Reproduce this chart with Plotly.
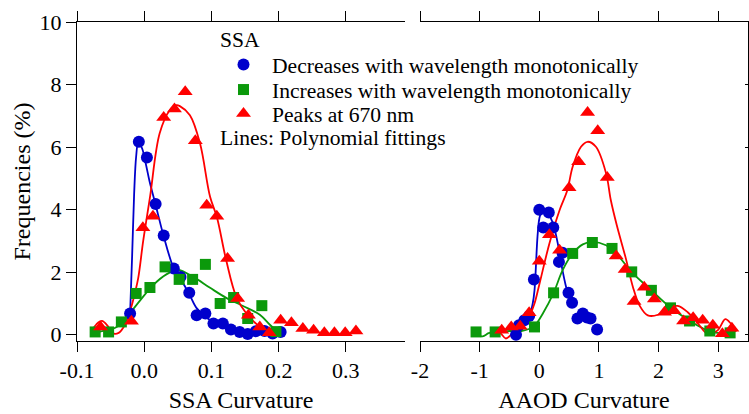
import plotly.graph_objects as go

# ---------------- data ----------------
# Left panel: SSA curvature
ssa_dec_x = [-0.021, -0.008, 0.004, 0.017, 0.029, 0.044, 0.054, 0.067, 0.078, 0.091,
             0.103, 0.117, 0.129, 0.142, 0.154, 0.166, 0.179, 0.191, 0.203]
ssa_dec_y = [0.68, 6.17, 5.67, 4.18, 3.17, 2.12, 1.85, 1.34, 0.62, 0.68,
             0.36, 0.36, 0.17, 0.09, 0.02, 0.11, 0.12, 0.04, 0.09]
ssa_inc_x = [-0.073, -0.053, -0.034, -0.012, 0.0085, 0.031, 0.052, 0.072, 0.091,
             0.113, 0.133, 0.154, 0.175, 0.196]
ssa_inc_y = [0.09, 0.09, 0.41, 1.32, 1.51, 2.17, 1.77, 1.77, 2.25,
             1.00, 1.19, 0.52, 0.93, 0.10]
ssa_peak_x = [-0.065, -0.019, -0.002, 0.013, 0.029, 0.045, 0.061, 0.076, 0.093, 0.108,
              0.124, 0.139, 0.155, 0.172, 0.186, 0.203, 0.219, 0.236, 0.252, 0.268,
              0.283, 0.299, 0.315]
ssa_peak_y = [0.25, 0.43, 3.42, 3.79, 6.95, 7.22, 7.77, 6.20, 4.14, 3.79,
              2.44, 1.16, 0.62, 0.25, 0.06, 0.46, 0.38, 0.20, 0.14, 0.06,
              0.06, 0.06, 0.12]

# polynomial fitting curves
ssa_dec_fit_x = [-0.021, -0.018, -0.015, -0.012, -0.009, -0.004, 0.002, 0.008, 0.017,
                 0.029, 0.044, 0.055, 0.067, 0.078, 0.090, 0.103, 0.117, 0.130, 0.142,
                 0.154, 0.166, 0.179, 0.191, 0.200]
ssa_dec_fit_y = [0.68, 2.5, 4.5, 5.7, 6.1, 6.0, 5.5, 4.9, 4.15,
                 3.15, 2.12, 1.75, 1.30, 0.85, 0.60, 0.40, 0.30, 0.17, 0.08,
                 0.03, 0.07, 0.09, 0.03, 0.06]
ssa_inc_fit_x = [-0.073, -0.061, -0.041, -0.026, -0.006, 0.013, 0.033, 0.050, 0.073,
                 0.098, 0.122, 0.147, 0.172, 0.187, 0.197]
ssa_inc_fit_y = [0.08, 0.12, 0.25, 0.57, 1.10, 1.58, 1.93, 2.07, 1.85,
                 1.50, 1.18, 0.92, 0.64, 0.32, 0.12]
ssa_peak_fit_x = [-0.076, -0.069, -0.063, -0.055, -0.049, -0.044, -0.038, -0.034, -0.028,
                  -0.024, -0.019, -0.014, -0.009, -0.0015, 0.0086, 0.023, 0.038, 0.048,
                  0.053, 0.068, 0.083, 0.098, 0.108, 0.122, 0.137, 0.152, 0.172, 0.187, 0.200]
ssa_peak_fit_y = [0.20, 0.38, 0.44, 0.30, 0.10, 0.03, 0.06, 0.14, 0.35,
                  0.57, 0.90, 1.32, 1.80, 3.00, 4.40, 6.44, 7.18, 7.34,
                  7.31, 7.02, 6.12, 4.41, 3.77, 2.38, 1.21, 0.68, 0.25, 0.04, 0.05]

# Right panel: AAOD curvature
aaod_dec_x = [-0.39, -0.34, -0.25, -0.17, -0.09, 0.00, 0.067, 0.16, 0.235, 0.33, 0.39,
              0.49, 0.55, 0.64, 0.73, 0.80, 0.86, 0.97]
aaod_dec_y = [0.00, 0.30, 0.46, 0.60, 1.77, 4.00, 3.43, 3.91, 3.43, 2.33, 2.62,
              1.34, 1.02, 0.52, 0.68, 0.55, 0.52, 0.17]
aaod_inc_x = [-1.06, -0.74, -0.08, 0.24, 0.56, 0.89, 1.22, 1.55, 1.88, 2.20, 2.52, 2.86, 3.20]
aaod_inc_y = [0.09, 0.09, 0.25, 1.34, 2.60, 2.95, 2.76, 2.01, 1.42, 0.86, 0.44, 0.12, 0.06]
aaod_peak_x = [-0.63, -0.47, -0.32, -0.17, 0.00, 0.17, 0.34, 0.50, 0.66, 0.81, 0.98, 1.14,
               1.29, 1.44, 1.59, 1.76, 1.93, 2.10, 2.26, 2.42, 2.58, 2.74, 2.91, 3.07, 3.23]
aaod_peak_y = [0.14, 0.25, 0.27, 0.70, 2.35, 3.20, 2.70, 4.70, 5.53, 7.11, 6.52, 5.03,
               2.52, 2.09, 1.06, 1.52, 1.14, 0.72, 0.77, 0.44, 0.54, 0.46, 0.30, 0.03, 0.21]

aaod_dec_fit_x = [-0.42, -0.35, -0.25, -0.17, -0.11, -0.08, -0.03, 0.00, 0.03, 0.11,
                  0.22, 0.31, 0.39, 0.45, 0.48]
aaod_dec_fit_y = [-0.05, 0.15, 0.35, 0.57, 1.00, 1.42, 3.13, 3.70, 3.88, 3.95,
                  3.61, 2.92, 2.06, 1.53, 1.35]
aaod_inc_fit_x = [-1.06, -0.95, -0.85, -0.74, -0.50, -0.30, -0.15, -0.08, 0.06, 0.24,
                  0.39, 0.56, 0.73, 0.89, 1.12, 1.29, 1.55, 1.88, 2.20, 2.52, 2.75,
                  2.90, 3.05, 3.20]
aaod_inc_fit_y = [0.00, -0.05, 0.05, 0.10, 0.12, 0.12, 0.20, 0.28, 0.68, 1.34,
                  2.06, 2.60, 2.89, 2.97, 2.86, 2.60, 2.00, 1.42, 0.87, 0.45, 0.20,
                  0.08, 0.05, 0.05]
aaod_peak_fit_x = [-0.73, -0.65, -0.56, -0.45, -0.28, -0.17, -0.08, 0.00, 0.17, 0.34,
                   0.47, 0.56, 0.70, 0.81, 0.95, 1.12, 1.20, 1.30, 1.45, 1.57, 1.68,
                   1.82, 1.99, 2.16, 2.32, 2.49, 2.66, 2.83, 2.99, 3.12, 3.21, 3.30]
aaod_peak_fit_y = [0.14, 0.05, -0.12, 0.04, 0.25, 0.57, 1.00, 1.60, 2.92, 3.98,
                   4.62, 5.37, 6.01, 6.17, 6.01, 5.16, 4.30, 3.50, 2.45, 1.53, 0.94,
                   0.62, 0.64, 0.85, 0.92, 0.72, 0.36, 0.02, 0.14, 0.50, 0.36, 0.09]

ssa_ticks = [-0.1, 0.0, 0.1, 0.2, 0.3]
ssa_tick_labels = ["-0.1", "0.0", "0.1", "0.2", "0.3"]
aaod_ticks = [-2, -1, 0, 1, 2, 3]
aaod_tick_labels = ["-2", "-1", "0", "1", "2", "3"]
y_ticks = [0, 2, 4, 6, 8, 10]

series_names = ["Decreases with wavelength monotonically",
                "Increases with wavelength monotonically",
                "Peaks at 670 nm"]

# ---------------- styling ----------------
BLUE = "#0000cc"
GREEN = "#0b990b"
RED = "#ff0000"
FONT = "Liberation Serif"
LEG_SIZE = 21.6

fig = go.Figure()

def add_panel(xa, ya, dec, inc, peak, fits, legend):
    specs = [
        (dec, BLUE, "circle", 12, fits[0]),
        (inc, GREEN, "square", 11, fits[1]),
        (peak, RED, "triangle-up", 13, fits[2]),
    ]
    for (xs, ys), color, sym, size, (fx, fy) in specs:
        fig.add_trace(go.Scatter(
            x=fx, y=fy, mode="lines",
            line=dict(color=color, width=1.8, shape="spline", smoothing=1.0),
            xaxis=xa, yaxis=ya, showlegend=False, hoverinfo="skip"))
    for i, ((xs, ys), color, sym, size, (fx, fy)) in enumerate(specs):
        if legend:
            kw = dict(showlegend=True, legend=["legend", "legend2", "legend3"][i])
        else:
            kw = dict(showlegend=False)
        fig.add_trace(go.Scatter(
            x=xs, y=ys, mode="markers", name=series_names[i],
            marker=dict(color=color, symbol=sym, size=size, line=dict(width=0)),
            xaxis=xa, yaxis=ya, **kw))

add_panel("x", "y",
          (ssa_dec_x, ssa_dec_y), (ssa_inc_x, ssa_inc_y), (ssa_peak_x, ssa_peak_y),
          [(ssa_dec_fit_x, ssa_dec_fit_y), (ssa_inc_fit_x, ssa_inc_fit_y),
           (ssa_peak_fit_x, ssa_peak_fit_y)], True)
add_panel("x2", "y2",
          (aaod_dec_x, aaod_dec_y), (aaod_inc_x, aaod_inc_y), (aaod_peak_x, aaod_peak_y),
          [(aaod_dec_fit_x, aaod_dec_fit_y), (aaod_inc_fit_x, aaod_inc_fit_y),
           (aaod_peak_fit_x, aaod_peak_fit_y)], False)

W, H = 749, 414
ML, MR, MT, MB = 77, 1, 22, 73
PW, PH = W - ML - MR, H - MT - MB

def px(xp):
    return (xp - ML) / PW

def py(yp):
    return (H - MB - yp) / PH

axis_common = dict(showline=True, linecolor="black", linewidth=1,
                   tickwidth=1, tickcolor="black", showgrid=False, automargin=False,
                   zeroline=False, tickfont=dict(family=FONT, size=22, color="black"))

leg_common = dict(font=dict(family=FONT, size=LEG_SIZE, color="black"),
                  bgcolor="rgba(0,0,0,0)", itemwidth=47, xanchor="left",
                  yanchor="middle", borderwidth=0, tracegroupgap=0)

fig.update_layout(
    width=W, height=H,
    margin=dict(l=ML, r=MR, t=MT, b=MB, autoexpand=False),
    paper_bgcolor="white", plot_bgcolor="white",
    font=dict(family=FONT, color="black"),
    xaxis=dict(domain=[0, (405 - ML) / PW], range=[-0.1, 0.388], anchor="y",
               mirror="ticks", ticks="outside", ticklen=10,
               tickvals=ssa_ticks, ticktext=ssa_tick_labels,
               title=dict(text="SSA Curvature", font=dict(family=FONT, size=24), standoff=8),
               **axis_common),
    xaxis2=dict(domain=[(420 - ML) / PW, 1], range=[-2, 3.5], anchor="y2",
                mirror="ticks", ticks="outside", ticklen=10,
                tickvals=aaod_ticks, ticktext=aaod_tick_labels,
                title=dict(text="AAOD Curvature", font=dict(family=FONT, size=24), standoff=8),
                **axis_common),
    yaxis=dict(range=[-0.2, 10], anchor="x", tickvals=y_ticks,
               ticks="outside", ticklen=10,
               title=dict(text="Frequencies (%)", font=dict(family=FONT, size=24), standoff=2),
               **axis_common),
    yaxis2=dict(range=[-0.2, 10], anchor="x2", side="right", matches="y",
                ticks="inside", ticklen=3,
                tickvals=y_ticks, showticklabels=False, **axis_common),
    legend=dict(x=px(215), y=py(65), **leg_common),
    legend2=dict(x=px(215), y=py(90), **leg_common),
    legend3=dict(x=px(215), y=py(114), **leg_common),
    annotations=[
        dict(text="SSA", xref="paper", yref="paper", x=px(218), y=py(40),
             xanchor="left", yanchor="middle", showarrow=False,
             font=dict(family=FONT, size=LEG_SIZE, color="black")),
        dict(text="Lines: Polynomial fittings", xref="paper", yref="paper", x=px(218), y=py(138),
             xanchor="left", yanchor="middle", showarrow=False,
             font=dict(family=FONT, size=LEG_SIZE, color="black")),
    ],
)

fig.write_html("out.html")
